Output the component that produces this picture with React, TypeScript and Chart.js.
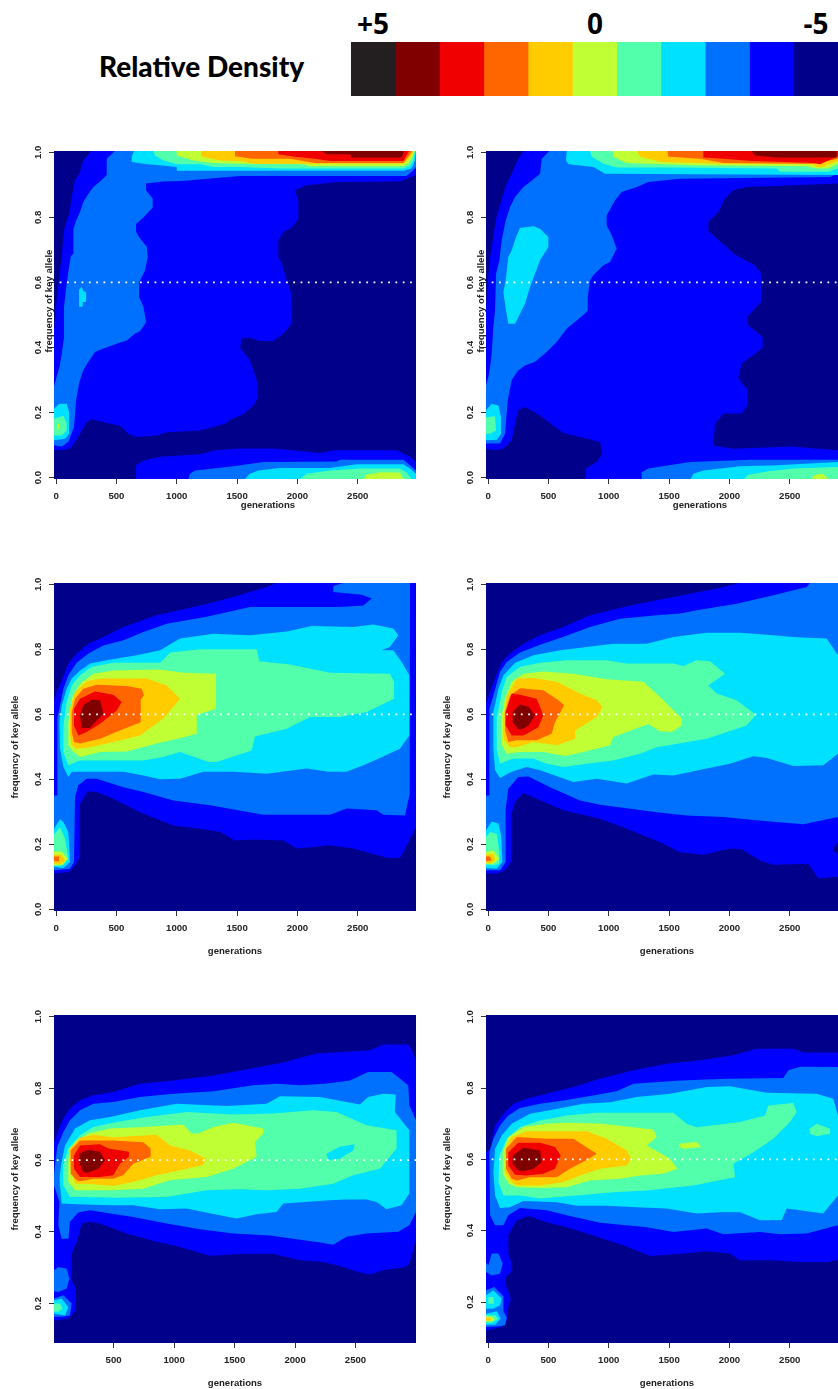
import React, { useEffect, useRef } from "react";
import { Chart, registerables } from "chart.js";

Chart.register(...registerables);

const levelColors = ["#231f20", "#800000", "#f00000", "#ff6600", "#ffcc00", "#c0ff33", "#52ffaa", "#00e0ff", "#0070ff", "#0000ff", "#00008b"];
const legendValues = [1, 1, 1, 1, 1, 1, 1, 1, 1, 1, 1];
const legendTicks = ["+5", "0", "-5"];
const xTicksFull = [0, 500, 1000, 1500, 2000, 2500];
const xTicksNoZero = [500, 1000, 1500, 2000, 2500];
const yTicksFull = [0, 20, 40, 60, 80, 100];
const yTicksNoZero = [20, 40, 60, 80, 100];
const guideFrequency = 60;

type Contour = [number, number[]];

// Each contour: [density level, [generation, frequency %, generation, frequency %, ...]]
const panelA: Contour[] = [
  [9, [290,100.4,226,97.5,193,93.4,157,91.4,130,86.3,108,81,66,76,47,68,28,62,5,54.5,-17,45,-17,8.5,61,8.4,116,9,166,11.5,199,13.5,249,17,296,18,447,16.6,530,16,600,13.5,668,12.5,834,13,917,14,1193,14.5,1304,15.6,1414,16.8,1442,17.8,1552,19.5,1635,22.2,1676,24.8,1663,30,1635,33,1607,36,1566,38,1525,40,1538,42.7,1607,43,1690,42,1801,42,1884,44.3,1953,47.3,1947,57,1917,60,1870,65.8,1842,67.8,1842,73,1884,75.5,1953,76.8,2008,79.6,2008,85.2,1980,88.3,2077,89.9,2326,90.9,2850,91,2983,93,2983,100.4]],
  [8, [489,100.4,420,98,420,93,365,91,309,89.3,268,87.3,226,84.7,199,81.7,166,79,144,76.5,144,69,122,68,108,64.8,88,59.6,66,52.5,66,43,47,38,28,34,5,31,-17,28,-17,10,47,9.6,102,11,149,15.6,166,23.8,193,29.4,226,33,268,35.6,323,38.6,392,39.7,503,41.2,586,42.2,655,44.3,696,45,746,47.8,724,52.5,688,55.5,688,60,737,63.7,760,67.8,752,71,696,73.5,663,75.5,663,78,724,80,801,83,801,85.8,746,88.3,746,90.4,889,91,1041,91.2,1525,92.7,2905,92.7,2961,94.5,2983,95.5,2983,100.4]],
  [7, [191,52.5,191,57.8,213,58.6,226,57.4,249,57,249,54,221,54,221,52.5]],
  [7, [-17,21.2,28,22.7,88,22.7,108,20.2,108,13.5,75,12,-17,11.5]],
  [6, [-17,18.1,61,19,88,17,88,14.5,47,13,-17,13]],
  [5, [11,16.6,25,16.6,25,14.8,11,14.8]],
  [7, [646,100.4,627,98.6,627,97,724,96.5,1000,95.5,1000,94.3,1442,94.3,2878,94.3,2947,95,2975,97.5,2983,100.4]],
  [6, [806,100.4,820,99,889,97.5,1000,96.3,1193,96.3,1304,95.5,1525,95.5,1856,95,2878,95,2933,95.7,2961,97.5,2977,100.4]],
  [5, [1000,100.4,1000,99,1138,97.5,1304,96.7,1525,96.5,2049,96.3,2104,95.7,2878,95.7,2919,96.5,2955,98.6,2969,100.4]],
  [4, [1201,100.4,1207,98.6,1359,97.5,1525,97.3,1635,96.5,2132,96.5,2878,96.5,2905,97.3,2947,99,2961,100.4]],
  [3, [1483,100.4,1483,98.8,1621,98,1939,98,2146,96.7,2878,96.7,2919,98.6,2950,100.4]],
  [2, [1842,100.4,1842,99.4,1980,98.6,2146,98,2270,97.3,2878,97.3,2905,99,2925,100.4]],
  [1, [2201,100.4,2243,99.4,2436,99.4,2450,98.4,2864,98.4,2886,100.4]],
  [9, [663,-0.4,663,3.8,724,5.3,862,6.4,1193,7.2,1317,8.4,1525,9,1801,9,2188,7.6,2298,8.4,2823,8.4,2933,6.4,2983,4.8,2983,-0.4]],
  [8, [1097,-0.4,1110,1.2,1152,2.2,1304,2.8,1469,3.5,1718,4.8,2326,5,2353,5.5,2878,5.5,2933,3.8,2983,2.2,2983,-0.4]],
  [7, [1566,-0.4,1607,1.2,1676,2.2,1856,3,2270,3,2491,4.1,2878,4.1,2933,2.8,2983,1.2,2983,-0.4]],
  [6, [2022,-0.4,2077,1.2,2270,2.2,2519,2.8,2850,2.8,2905,1.7,2947,-0.4]],
  [5, [2547,-0.4,2574,0.9,2685,1.7,2850,1.6,2878,-0.4]],
];

const panelB: Contour[] = [
  [9, [293,100.4,243,97.5,196,93.4,155,90.4,127,87.3,94,83.2,66,79.6,44,74,22,68.9,3,62.2,-17,51.4,-17,8.9,58,8.4,127,8.9,196,11.5,224,16.6,251,20.7,307,21.7,403,19.7,514,16.8,624,13.7,762,12.5,928,11,947,7.4,900,4.8,809,2.8,809,-0.4,2983,-0.4,2983,100.4]],
  [10, [1867,9.9,1881,16.6,1950,19.7,2102,19.7,2149,22.2,2149,27.4,2116,28.4,2074,30.9,2102,35,2157,36.6,2212,38,2276,40,2276,43.2,2226,44.8,2157,46.8,2149,49.4,2212,52,2262,54,2262,62.7,2212,65.3,2143,66.6,2033,68.9,1978,70.9,1895,73.5,1826,76,1826,78.6,1909,81.7,1964,85.8,2033,88.3,2143,89.3,2900,90.4,2983,91,2983,8.4,2900,8.4,2502,9.6,2033,8.9]],
  [8, [508,100.4,445,98,431,93.4,348,90.9,293,89.3,224,86.3,182,83.2,146,79,113,73,94,66.8,66,62.7,58,51.4,44,46.3,30,38,17,34,3,31,-17,28.4,-17,10.5,99,10.5,141,13.5,163,23.8,196,30,251,33,307,34.5,389,35.6,486,38.6,569,41.7,652,45.8,707,47.5,790,50,826,51.4,826,55.5,845,60.7,873,62.2,956,65.3,1011,66.3,1066,70.4,1025,74.5,983,77.6,983,80.6,1052,85.2,1107,87.8,1232,89.3,1328,90.9,1591,91.9,2834,92.4,2900,93.4,2983,94,2983,100.4]],
  [7, [307,77,265,76.8,232,74,196,69.9,168,67.8,146,60.7,127,57,149,51.4,168,47.3,224,47.3,265,50.4,307,53.5,348,58.6,389,62.7,431,66.8,500,70.9,500,74,431,76.5,376,77.3]],
  [7, [-17,20.7,30,22.7,86,22.2,108,18.6,108,13.5,72,11.7,-17,11.5]],
  [6, [-17,18.6,58,18.9,66,14.5,17,13.5,-17,13.5]],
  [7, [652,100.4,646,97.5,666,96.3,873,95.5,969,93.4,2900,93,2983,93,2983,100.4]],
  [6, [845,100.4,859,98.6,956,96.5,1066,95.3,1536,95.3,2392,95,2420,94,2820,94,2900,95,2983,96,2983,100.4]],
  [5, [1033,100.4,1038,98.6,1149,96.7,1701,96,2640,95.7,2723,95,2820,95,2900,96.5,2983,97.5,2983,100.4]],
  [4, [1237,100.4,1259,98.6,1439,97,1950,96.5,2696,96.3,2723,95.5,2765,95.5,2900,97.3,2983,98,2983,100.4]],
  [3, [1486,100.4,1494,98.6,1757,98,1950,96.7,2696,96.5,2900,98,2983,99,2983,100.4]],
  [2, [1784,100.4,1784,98.4,1950,98,2185,97.3,2696,96.7,2751,96.3,2900,98.8,2983,100,2983,100.4]],
  [1, [2185,100.4,2212,99,2392,98.4,2889,98.4,2889,100.4]],
  [8, [1268,-0.4,1273,1.7,1328,2.8,1674,4.8,2171,5.5,2900,5.5,2983,5.5,2983,-0.4]],
  [7, [1679,-0.4,1701,1.2,1784,2.2,2088,3.5,2392,3.8,2900,4.8,2983,5,2983,-0.4]],
  [6, [2121,-0.4,2157,0.9,2323,2,2530,2.8,2900,3.3,2983,3.3,2983,-0.4]],
  [5, [2682,-0.4,2710,0.9,2778,1.2,2820,-0.4]],
];

const panelC: Contour[] = [
  [9, [-17,64.6,11,67.4,47,70.5,102,75.6,171,78.7,268,81.7,392,83.8,558,86.9,834,90.5,1193,93.5,1469,96.1,1746,99.2,1828,100.4,2983,100.4,2983,25.3,2947,22.8,2892,18.7,2850,15.8,2754,15.8,2575,17.6,2464,18.7,2270,19.7,2132,19.2,1994,18.7,1884,21.2,1635,21.5,1483,21.2,1359,23.8,1193,24.8,971,25.8,696,29.9,475,34,337,36.1,260,36.3,199,32.5,191,15.6,157,13.5,102,11.5,-17,11]],
  [8, [11,35,11,58.7,33,62.8,61,67.9,102,72,171,75.9,268,78.7,392,81.2,558,82.8,724,85.3,917,87.9,1248,90,1607,93,2353,93,2547,93.5,2616,95.6,2533,96.8,2298,97.6,2298,99.5,2381,100.4,2933,100.4,2933,92.5,2928,35.6,2892,28.9,2712,29.1,2657,30.5,2408,31,2270,29.1,1718,29.1,1276,32,972,33.5,724,36.1,558,37.6,337,40.2,254,40.2,185,38.2,157,34.6,149,14.6,116,12.5,-17,12,-17,35]],
  [7, [102,40.7,61,43.8,33,49.4,28,57.6,47,62.8,88,67.9,130,71,199,73.5,282,75.6,420,76.6,668,78.2,862,79.7,1027,83.3,1304,84.8,1607,84.3,1911,85.5,2118,87.2,2464,86.9,2630,87.6,2795,86.4,2837,84.3,2767,80.7,2698,79.7,2795,79.7,2864,76.1,2928,72,2928,53.5,2850,49.4,2685,46.6,2547,44.3,2408,42.3,2256,42.3,2077,43.3,1746,41.7,1469,42.3,1221,42.3,1027,40.2,862,40,724,41.2,558,42.3,199,42.3,130,42.3]],
  [6, [102,44.3,61,48.4,61,56.6,88,63.8,130,68.9,199,72,296,74.6,475,75.9,862,75.9,945,79,1193,80,1663,80,1685,76.3,1939,75.3,2270,72.8,2767,72.5,2801,70,2801,64.8,2575,60.7,2353,59.2,2105,59.2,1911,55.6,1649,53.2,1621,48.9,1331,45.3,1262,45.3,1027,48.4,889,46.9,724,45.8,365,45.8,199,45.8]],
  [5, [130,48.9,102,50.5,102,57.6,130,64.8,199,69.4,309,72.5,475,73.5,862,73.8,1055,72.8,1326,72.5,1326,61.7,1166,59.9,1166,54,1069,53,834,51,586,48.6,365,48.4,199,46.9]],
  [4, [130,50.5,116,53.5,116,61.7,157,66.9,254,70.2,365,71,751,71,917,68.9,1027,64.8,972,62.3,889,58.7,696,53.5,475,51.5,282,49.9,171,49.4]],
  [3, [149,51.5,130,54.6,130,60.7,157,64.8,226,67.9,337,69.1,586,68.7,710,67.9,729,65.8,702,64.6,702,57.6,530,55,365,52.5,199,51]],
  [2, [185,53.5,149,56.6,149,61.7,199,64.8,323,67,475,66,544,63.8,503,61.2,365,57.1,254,54.6]],
  [1, [213,55.8,199,59.7,226,62.8,296,64.6,365,64.3,392,60.2,323,57.6,282,55.8]],
  [7, [-17,24.8,33,27.7,61,26.9,102,23.8,116,14.6,61,12.7,-17,13]],
  [6, [-17,23,33,25.3,75,21.7,102,15.6,61,13.7,-17,13.7]],
  [5, [-17,17.8,47,17.8,97,15.6,47,13.5,-17,13.5]],
  [4, [-17,16.8,47,16.8,75,15,47,14,-17,14]],
  [3, [-17,16.3,25,16.3,25,14.8,-17,14.8]],
];

const panelD: Contour[] = [
  [9, [-17,63.3,11,66.4,58,71,113,76.1,182,78.7,293,81.7,431,84.3,624,86.9,845,90.5,1177,93.5,1536,96.1,1895,98.7,2088,100.4,2983,100.4,2983,10,2900,10,2737,9.6,2682,12.5,2654,14,2364,13.7,2254,15,2102,18.5,2005,18.7,1784,16.8,1591,17.6,1425,20.7,1149,24.8,928,27.9,624,30.5,403,34,293,35.8,224,33,191,28.9,191,14.6,141,12,72,11,-17,11]],
  [10, [2861,19,2900,20.5,2983,20.5,2983,17,2900,17,2861,18]],
  [8, [11,35,11,61.7,44,65.8,99,73,155,76.1,265,79,431,81.4,597,83.5,845,86.9,1094,89.4,1398,90.5,1591,91,1729,92,2060,94,2364,96.6,2640,99.2,2668,100.4,2983,100.4,2983,28,2900,28.4,2613,26.2,2309,27.1,1950,28.4,1646,28.9,1398,29.9,928,32.2,762,33.5,514,37.6,334,40.9,251,40.7,168,37.1,146,31,146,14.6,99,12,-17,12,-17,35]],
  [7, [99,40.4,58,42.8,44,49.4,44,60.7,86,67.9,127,72,224,75.9,376,78.2,597,79.7,818,80.7,1038,81.7,1315,81.7,1536,83.8,1812,85.1,2088,85.1,2364,84.3,2530,83.8,2806,83.3,2900,78.2,2983,70,2983,50,2900,47.9,2778,44.3,2530,44.1,2309,46.6,2198,47.1,2005,44.8,1812,43.3,1536,41.2,1370,41.5,1149,38.7,900,40.2,707,39.2,431,42.8,320,43.8,196,42.3]],
  [6, [99,44.8,72,49.4,72,58.7,113,66.9,155,71.5,265,74.6,431,75.9,652,76.6,983,76.6,1149,75.6,1536,75.6,1619,74.9,1729,76.6,1840,76.3,1964,72.5,1826,68.9,1895,66.4,2060,64.3,2221,59.9,2143,56.6,1812,52.5,1398,49.9,1259,47.9,1038,45.8,818,44.8,624,43.8,486,44.8,376,46.4,210,46.4]],
  [5, [155,47.9,108,51,108,58.7,141,64.8,196,70,293,72.5,458,73.2,707,72.5,983,70.8,1287,70,1425,65.3,1605,58.7,1605,56.6,1522,54.6,1425,54.8,1328,57,1038,53,1011,50.5,790,48.4,638,47.2,458,48.4,265,48.4]],
  [4, [182,49.9,127,52.5,127,58.7,155,65.8,238,71,376,71.2,569,70,762,66.4,900,64.3,947,62.3,900,59.2,721,55,721,52.5,569,50.5,376,51.5,238,49.9]],
  [3, [168,51.5,141,55,141,60.7,182,65.8,265,68,458,67.4,583,64.3,630,62.8,555,57.6,527,54,403,52,238,52]],
  [2, [196,53.5,146,56.6,146,60.7,196,66.4,265,66,403,64.8,458,59.7,417,56,293,53.5]],
  [1, [251,55.4,204,57.6,204,60.7,265,63,334,62.3,389,59.7,334,56.6,279,55.4]],
  [7, [-17,24.3,30,27,86,26.4,108,22.8,119,14.6,72,12.5,-17,12.7]],
  [6, [-17,22.3,17,23.8,72,23.3,94,17.6,94,14,44,13.5,-17,13.7]],
  [5, [-17,17.6,44,18.2,94,15.6,44,14,-17,14]],
  [4, [-17,16.8,44,17.1,58,15,17,14,-17,14.4]],
  [3, [-17,16.3,17,16.3,30,15,-17,14.8]],
];

const panelE: Contour[] = [
  [9, [7,65,43,68.3,84,71.6,139,74.4,222,76.7,332,78.1,497,79,717,81.3,993,82.2,1324,83.6,1627,85.5,1902,87.2,2178,89.7,2619,90.6,2729,92.2,2936,92.2,2964,90.6,3000,87.8,3000,38,2945,31.1,2909,30.2,2729,29.3,2619,28.1,2522,28.8,2398,30.2,2233,31.6,2040,32.1,1819,33.9,1572,33.9,1296,33.3,1048,35.8,855,37.2,607,39.5,387,42.3,304,42.8,235,42.3,200,37.6,153,33.9,153,26.5,189,24.2,189,18.1,126,15.8,7,15.3]],
  [8, [7,56.2,34,63.7,84,67.8,139,71.1,222,73.9,332,75.7,497,76.2,717,77.6,993,78.5,1324,79.2,1655,80.9,1847,81.3,2040,80.9,2246,81.3,2453,82.2,2604,84.6,2798,84.6,2936,80.9,2945,75.3,3000,71.1,3000,45.5,2945,41.8,2854,40,2591,39.5,2426,38.6,2316,36.4,2206,37,1985,38.1,1792,39,1489,39.5,1213,40.7,938,42.3,662,44.1,497,45,304,46,208,45.4,139,42.8,126,38.1,70,38.1,43,41.8,52,48.3,7,53]],
  [8, [7,29.3,43,30.2,112,29.7,134,27,112,24.2,43,23.2,7,23.4]],
  [8, [7,21.4,84,22.3,153,20,139,16.7,70,16.3,7,16.3]],
  [7, [7,20.9,70,21.4,126,19,98,16.7,7,17.2]],
  [6, [7,20,57,20,79,18.6,43,17.7,7,17.8]],
  [7, [70,47.9,52,54.8,65,58.6,98,64.1,181,68.8,304,71.1,469,72,717,73.9,1021,75.7,1434,75.1,1764,75.7,1875,77.8,2205,77.6,2536,75.5,2604,77.6,2729,78.5,2833,78.3,2825,73.4,2945,68.3,2945,50.7,2880,47.4,2756,46.3,2674,48.3,2591,49,2426,49,2288,48.8,1902,47.9,1847,45.5,1681,44.9,1517,43.7,1324,45,1103,46.5,883,46.3,662,47.4,469,47.4,194,47.7]],
  [6, [139,49.7,84,53,84,58.6,125,63.2,222,66.9,332,69.2,524,70.6,772,72,1103,73.4,1489,72.7,1819,73,2150,73.9,2343,73.4,2591,69.7,2839,68.3,2839,63.2,2701,57.6,2481,55.8,2316,53.4,2040,52,1764,51.6,1544,51.9,1269,51.6,938,49.7,524,49.5,249,49.7]],
  [7, [2260,61.8,2370,63.7,2494,64.4,2481,62.7,2370,60.4,2274,60]],
  [5, [181,51.6,125,53.9,125,60.4,181,65,291,67.4,469,68.8,745,69.2,1076,69.9,1145,67.4,1200,67.4,1324,69.2,1489,70.4,1737,68.8,1737,67.4,1668,65,1682,60.9,1489,57.6,1269,55.3,966,54.4,745,52,497,51.6,277,51.6]],
  [4, [181,53.4,139,58.6,139,63.2,222,66.2,332,67.1,497,66.4,855,67.1,966,64.1,1131,62.7,1263,60.4,1241,58.6,1048,57.2,855,55.8,662,53.9,497,52.8,277,53.4]],
  [3, [194,54.4,145,56.2,145,62.7,222,65.5,497,65.5,745,65,806,63.2,806,60.9,662,59,579,55.8,497,54.8,332,54.8,222,54.1]],
  [2, [222,55.3,172,57.6,172,61.3,222,64.1,387,64.4,456,63.2,626,62.3,626,60.9,552,59,497,55.8,387,55.3]],
  [1, [249,56.7,214,59.5,214,61.8,291,62.9,387,62.3,429,59.9,373,57.6,277,56.4]],
];

const panelF: Contour[] = [
  [9, [-17,62,17,63,58,69.5,127,72.8,210,75.6,320,77,486,78.4,707,80.3,928,82.6,1204,85,1480,86.8,1757,87.8,2033,89.2,2226,91,2530,91,2613,90,2900,90,2983,90,2983,32,2900,32,2820,31.2,2571,31.2,2364,31.7,2088,31.7,2005,33.6,1812,34.2,1619,33.6,1342,32.9,1121,35.9,818,39.2,652,41,486,42.4,334,44.1,238,42.9,182,39.6,168,38.7,168,33.6,191,31.2,191,28.4,149,27,149,24.7,188,20.9,168,18.6,155,14.9,113,13,-17,12]],
  [8, [11,62,44,65.8,99,69.5,168,72.3,265,74.4,431,75.6,624,76.5,845,77.8,1066,79.1,1204,81.2,1591,82.1,1978,82.6,2447,82.8,2489,85,2585,86,2900,85.9,2983,85,2983,39,2900,41.5,2640,39.2,2420,39,2254,39.6,1950,39,1812,40.6,1536,39.6,1315,41,928,42.2,652,44.3,486,45.7,265,46.4,168,44.3,127,41.5,58,41.5,17,44.3]],
  [8, [3,30.3,30,33.6,86,33.6,122,30.8,99,27.9,30,27.4,-17,28.4,-17,31]],
  [8, [-17,23.3,50,24.2,127,21.6,127,17.5,155,15.6,141,13.5,99,13.2,-17,13]],
  [7, [-17,21.9,44,23.3,113,20.9,99,19,44,18.1,-17,18.1]],
  [7, [-17,16.7,72,17.4,105,15.3,58,13.6,-17,13.6]],
  [6, [3,21.4,44,21.4,50,19.5,3,19.5]],
  [6, [-17,16.3,58,16.3,86,15.2,30,14.2,-17,14.2]],
  [5, [-17,15.9,30,15.9,55,15,30,14.6,-17,14.6]],
  [4, [-17,15.6,20,15.6,30,15,20,14.8,-17,14.8]],
  [7, [99,46.4,58,49.9,44,56.4,58,63,113,66.7,196,70,348,72.8,541,74,790,75.6,1011,76,1232,77.5,1508,78.4,1812,80.3,2005,80.5,2309,78.7,2723,78.4,2861,77,2900,72.3,2983,70,2983,48,2900,49.9,2778,44.8,2475,46.2,2433,42.9,2254,42.9,2088,45.2,1922,45.2,1729,44.8,1480,46.2,1232,46.6,983,47,735,47,569,48,293,48.3,182,46.6]],
  [6, [127,49.9,86,53.6,94,61.1,155,65.8,265,69.1,431,70.9,652,72.3,900,73.1,1536,73.1,1646,70,1729,69,2088,70.5,2295,72.3,2323,75.1,2530,75.8,2558,73.3,2502,70.5,2364,65.8,2199,62,2033,58.8,2047,55,1701,52.7,1315,51.3,1038,50.8,735,49.9,431,49,265,49.9]],
  [6, [2663,68.6,2723,70,2834,68.6,2834,67.2,2723,66.5,2668,67.2]],
  [5, [1585,64.4,1729,64.9,1765,63.5,1619,63,1585,63.5]],
  [5, [168,53.2,122,56,122,62,168,66.3,293,69.1,486,70,652,70.3,928,70.1,1204,69,1370,68.4,1398,66.3,1315,63.9,1508,60.2,1569,57.4,1453,56,1259,55.5,1094,54.6,845,54.1,652,52.2,431,52,238,52.2]],
  [4, [196,53.6,141,56.4,141,63,196,66.3,320,67.9,514,67.9,818,67.9,983,65.8,1149,62.5,1185,60.2,1149,58.3,928,57.4,762,55.5,624,53.6,431,52.7,238,52.7]],
  [3, [196,54.6,149,57.4,149,63,238,66.3,486,65.8,707,65.8,900,61.6,818,59.8,679,57.4,569,55,348,55,238,54.1]],
  [2, [224,55.7,168,58.3,168,62,251,64.7,431,64.7,555,63.5,602,61.1,555,57.4,458,56,320,55.5]],
  [1, [251,56.9,204,58.8,204,61.1,293,63.3,431,62.5,445,59.2,376,57.4,293,56.7]],
];

const XLABEL = "generations";
const YLABEL = "frequency of key allele";
const TICK_FONT = { family: "'Liberation Sans', Arial, sans-serif", size: 9.6, weight: "bold" as const };

type PanelCfg = {
  contours: Contour[];
  left: number;
  areaTop: number;
  xMin: number;
  xMax: number;
  yMin: number;
  yMax: number;
  xTicks: number[];
  yTicks: number[];
  titled: boolean;
};

const PAD_TOP = 10;
const AREA_W = 362;
const AREA_H = 328;
const YAXIS_W = 54;
const XAXIS_H = 47;
const PAD_RIGHT = 4;

function Panel({ cfg }: { cfg: PanelCfg }) {
  const ref = useRef<HTMLCanvasElement | null>(null);
  useEffect(() => {
    const { xMin, xMax, yMin, yMax } = cfg;
    const polygon = (pts: number[]) => {
      const out: { x: number; y: number }[] = [];
      for (let i = 0; i < pts.length; i += 2) out.push({ x: pts[i], y: pts[i + 1] });
      return out;
    };
    const background: Contour = [10, [xMin, yMin, xMin, yMax, xMax, yMax, xMax, yMin]];
    const areas = [background, ...cfg.contours].map(([level, pts]) => ({
      data: polygon(pts),
      showLine: true,
      fill: "shape",
      backgroundColor: levelColors[level],
      borderColor: "transparent",
      borderWidth: 0,
      pointRadius: 0,
      pointHoverRadius: 0,
    }));
    areas.reverse();
    const guide = {
      data: [{ x: 30, y: guideFrequency }, { x: xMax, y: guideFrequency }],
      showLine: true,
      fill: false,
      borderColor: "#ffffff",
      borderWidth: 1.8,
      borderDash: [1.8, 5.5],
      pointRadius: 0,
    };
    const chart = new Chart(ref.current as HTMLCanvasElement, {
      type: "scatter",
      data: { datasets: [guide, ...areas] as any },
      options: {
        animation: false,
        responsive: false,
        events: [],
        layout: { padding: { top: PAD_TOP, right: PAD_RIGHT, left: 0, bottom: 0 } },
        plugins: { legend: { display: false }, tooltip: { enabled: false } },
        scales: {
          x: {
            type: "linear",
            min: xMin,
            max: xMax,
            grid: { drawOnChartArea: false, drawTicks: true, tickLength: 5, color: "#333333" },
            border: { display: false },
            afterBuildTicks: (s: any) => { s.ticks = cfg.xTicks.map((value) => ({ value })); },
            afterFit: (s: any) => { s.height = XAXIS_H; },
            ticks: {
              color: "#222222",
              font: TICK_FONT,
              padding: 7,
              maxRotation: 0,
              minRotation: 0,
              autoSkip: false,
              callback: (v: any) => String(v),
            },
            title: {
              display: cfg.titled,
              text: XLABEL,
              color: "#222222",
              font: TICK_FONT,
              padding: { top: 0, bottom: 0.6 },
            },
          },
          y: {
            type: "linear",
            min: yMin,
            max: yMax,
            grid: { drawOnChartArea: false, drawTicks: true, tickLength: 5, color: "#333333" },
            border: { display: false },
            afterBuildTicks: (s: any) => { s.ticks = cfg.yTicks.map((value) => ({ value })); },
            afterFit: (s: any) => { s.width = YAXIS_W; },
            ticks: {
              color: "#222222",
              font: TICK_FONT,
              padding: 4,
              minRotation: 90,
              maxRotation: 90,
              crossAlign: "center",
              autoSkip: false,
              callback: (v: any) => (Number(v) / 100).toFixed(1),
            },
            title: {
              display: cfg.titled,
              text: YLABEL,
              color: "#222222",
              font: TICK_FONT,
              padding: { top: 10, bottom: 0 },
            },
          },
        },
      } as any,
    });
    return () => chart.destroy();
  }, [cfg]);
  return (
    <canvas
      ref={ref}
      width={YAXIS_W + AREA_W + PAD_RIGHT}
      height={PAD_TOP + AREA_H + XAXIS_H}
      style={{ position: "absolute", left: cfg.left, top: cfg.areaTop - PAD_TOP, display: "block" }}
    />
  );
}

function LegendBar() {
  const ref = useRef<HTMLCanvasElement | null>(null);
  useEffect(() => {
    const chart = new Chart(ref.current as HTMLCanvasElement, {
      type: "bar",
      data: {
        labels: ["Relative Density"],
        datasets: legendValues.map((v, i) => ({
          data: [v],
          backgroundColor: levelColors[i],
          borderWidth: 0,
          barPercentage: 1,
          categoryPercentage: 1,
        })),
      },
      options: {
        animation: false,
        responsive: false,
        indexAxis: "y",
        events: [],
        layout: { padding: 0 },
        plugins: { legend: { display: false }, tooltip: { enabled: false } },
        scales: {
          x: { stacked: true, display: false, min: 0, max: legendValues.length },
          y: { stacked: true, display: false },
        },
      } as any,
    });
    return () => chart.destroy();
  }, []);
  return <canvas ref={ref} width={487} height={54} style={{ position: "absolute", left: 351, top: 42, display: "block" }} />;
}

const rowTops = [151, 583, 1015];
const colLefts = [0, 432];
const panels: PanelCfg[] = [
  { contours: panelA, left: colLefts[0], areaTop: rowTops[0], xMin: -17, xMax: 2983, yMin: -0.4, yMax: 100.4, xTicks: xTicksFull, yTicks: yTicksFull, titled: false },
  { contours: panelB, left: colLefts[1], areaTop: rowTops[0], xMin: -17, xMax: 2983, yMin: -0.4, yMax: 100.4, xTicks: xTicksFull, yTicks: yTicksFull, titled: false },
  { contours: panelC, left: colLefts[0], areaTop: rowTops[1], xMin: -17, xMax: 2983, yMin: -0.5, yMax: 100.4, xTicks: xTicksFull, yTicks: yTicksFull, titled: true },
  { contours: panelD, left: colLefts[1], areaTop: rowTops[1], xMin: -17, xMax: 2983, yMin: -0.5, yMax: 100.4, xTicks: xTicksFull, yTicks: yTicksFull, titled: true },
  { contours: panelE, left: colLefts[0], areaTop: rowTops[2], xMin: 7, xMax: 3000, yMin: 9, yMax: 100.46, xTicks: xTicksNoZero, yTicks: yTicksNoZero, titled: true },
  { contours: panelF, left: colLefts[1], areaTop: rowTops[2], xMin: -17, xMax: 2983, yMin: 8.5, yMax: 100.5, xTicks: xTicksFull, yTicks: yTicksNoZero, titled: true },
];

const labelStyle: React.CSSProperties = {
  position: "absolute",
  fontFamily: "'Liberation Sans', Arial, sans-serif",
  fontSize: 9.6,
  fontWeight: "bold",
  color: "#222222",
  whiteSpace: "nowrap",
  lineHeight: "12px",
};

const headStyle: React.CSSProperties = {
  position: "absolute",
  fontFamily: "'Open Sans', sans-serif",
  fontWeight: 700,
  color: "#000",
  whiteSpace: "nowrap",
};

export default function App() {
  return (
    <div style={{ position: "absolute", left: 0, top: 0, width: 838, height: 1389, overflow: "hidden", background: "#fff" }}>
      <div style={{ ...headStyle, left: 99, top: 47, fontFamily: "Lato, sans-serif", fontWeight: 900, fontSize: 28, lineHeight: "38px" }}>Relative Density</div>
      <div style={{ ...headStyle, left: 333, width: 80, textAlign: "center", top: 4, fontSize: 28, lineHeight: "38px" }}>{legendTicks[0]}</div>
      <div style={{ ...headStyle, left: 555, width: 80, textAlign: "center", top: 4, fontSize: 28, lineHeight: "38px" }}>{legendTicks[1]}</div>
      <div style={{ ...headStyle, left: 776, width: 80, textAlign: "center", top: 4, fontSize: 28, lineHeight: "38px" }}>{legendTicks[2]}</div>
      <LegendBar />
      {panels.map((p, i) => (
        <Panel key={i} cfg={p} />
      ))}
      {colLefts.map((l) => (
        <React.Fragment key={l}>
          <div style={{ ...labelStyle, left: l + 268 - 60, width: 120, textAlign: "center", top: 499 }}>{XLABEL}</div>
          <div style={{ ...labelStyle, left: l + 49 - 80, width: 160, textAlign: "center", top: 295, transform: "rotate(-90deg)" }}>{YLABEL}</div>
        </React.Fragment>
      ))}
    </div>
  );
}
